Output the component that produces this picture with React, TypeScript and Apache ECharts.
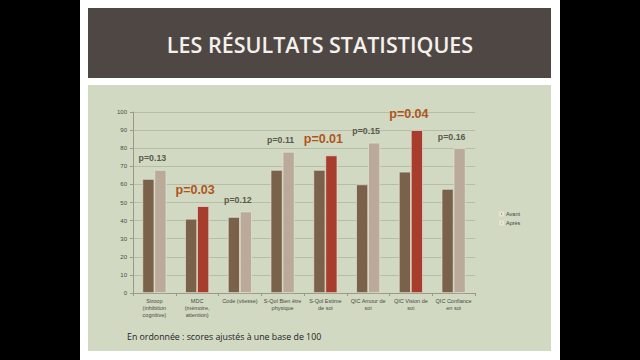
import React, { useEffect, useRef } from "react";
import * as echarts from "echarts";

const categories = [
  "Stroop\n(inhibition\ncognitive)",
  "MDC\n(mémoire,\nattention)",
  "Code (vitesse)",
  "S-Qol Bien être\nphysique",
  "S-Qol Estime\nde soi",
  "QIC Amour de\nsoi",
  "QIC Vision de\nsoi",
  "QIC Confiance\nen soi",
];
const avant = [63, 41, 42, 68, 68, 60, 67, 57.5];
const apres = [68, 48, 45, 78, 76, 83, 90, 80];
const pValues = ["0.13", "0.03", "0.12", "0.11", "0.01", "0.15", "0.04", "0.16"];
const seriesNames = ["Avant", "Après"];
const yTicks = [0, 10, 20, 30, 40, 50, 60, 70, 80, 90, 100];

const TITLE = "LES RÉSULTATS STATISTIQUES";
const CAPTION = "En ordonnée : scores ajustés à une base de 100";

const C_AVANT = "#7a6149";
const C_APRES = "#b9aa9a";
const C_SIG = "#a63d2d";

export default function App() {
  const ref = useRef<HTMLDivElement>(null);
  useEffect(() => {
    document.body.style.margin = "0";
    const chart = echarts.init(ref.current!, null, { renderer: "svg" });
    const apresData = apres.map((v, i) => {
      const sig = parseFloat(pValues[i]) < 0.05;
      return {
        value: v,
        itemStyle: { color: sig ? C_SIG : C_APRES },
        label: {
          show: true,
          position: "top",
          offset: [-8, sig ? -5 : -2],
          formatter: "p=" + pValues[i],
          fontSize: sig ? 12.5 : 8.8,
          fontWeight: "bold",
          color: sig ? "#b0541c" : "#5b5a4c",
          fontFamily: "Liberation Sans, Arial, sans-serif",
        },
      };
    });
    chart.setOption({
      animation: false,
      backgroundColor: "transparent",
      textStyle: { fontFamily: "Liberation Sans, Arial, sans-serif" },
      graphic: [
        {
          type: "text",
          left: "center",
          top: 33,
          style: {
            text: TITLE,
            fill: "#f4f1ec",
            fontSize: 21.5,
            fontWeight: 600,
            fontFamily: "Open Sans, sans-serif",
          },
        },
        {
          type: "text",
          left: 127,
          top: 332,
          style: {
            text: CAPTION,
            fill: "#222",
            fontSize: 8.8,
            fontFamily: "Open Sans, sans-serif",
          },
        },
      ],
      legend: {
        orient: "vertical",
        left: 494,
        top: 206,
        itemWidth: 3,
        itemHeight: 3,
        itemGap: 3,
        icon: "rect",
        textStyle: { fontSize: 5.5, color: "#444", padding: [0, 0, 0, -2] },
        data: seriesNames,
      },
      grid: { left: 133, right: 165, top: 112, bottom: 67 },
      xAxis: {
        type: "category",
        data: categories,
        axisLine: { lineStyle: { color: "#9a9a8a" } },
        axisTick: { show: true, length: 3, lineStyle: { color: "#9a9a8a" } },
        axisLabel: {
          interval: 0,
          fontSize: 5.5,
          lineHeight: 7,
          color: "#4a4a40",
          margin: 4,
        },
      },
      yAxis: {
        type: "value",
        min: 0,
        max: 100,
        interval: 10,
        axisLine: { show: true, lineStyle: { color: "#9a9a8a" } },
        axisTick: { show: true, length: 3, lineStyle: { color: "#9a9a8a" } },
        axisLabel: {
          fontSize: 6,
          color: "#4a4a40",
          margin: 6,
          formatter: (v: number) => (yTicks.includes(v) ? String(v) : ""),
        },
        splitLine: { lineStyle: { color: "#b6bea8", width: 1 } },
      },
      series: [
        {
          name: seriesNames[0],
          type: "bar",
          data: avant,
          barWidth: 12,
          barGap: "0%",
          itemStyle: { color: C_AVANT, borderColor: "#e6e2d4", borderWidth: 0.7 },
        },
        {
          name: seriesNames[1],
          type: "bar",
          data: apresData,
          barWidth: 12,
          barGap: "0%",
          itemStyle: { color: C_APRES, borderColor: "#e6e2d4", borderWidth: 0.7 },
        },
      ],
    });
    return () => chart.dispose();
  }, []);

  return (
    <div style={{ position: "fixed", left: 0, top: 0, width: 640, height: 360, background: "#000" }}>
      <div style={{ position: "absolute", left: 80, top: 0, width: 480, height: 360, background: "#ffffff" }} />
      <div style={{ position: "absolute", left: 88, top: 8, width: 463, height: 70, background: "#4f4744" }} />
      <div style={{ position: "absolute", left: 88, top: 85, width: 463, height: 266, background: "#d1d9c3" }} />
      <div ref={ref} style={{ position: "absolute", left: 0, top: 0, width: 640, height: 360 }} />
    </div>
  );
}
